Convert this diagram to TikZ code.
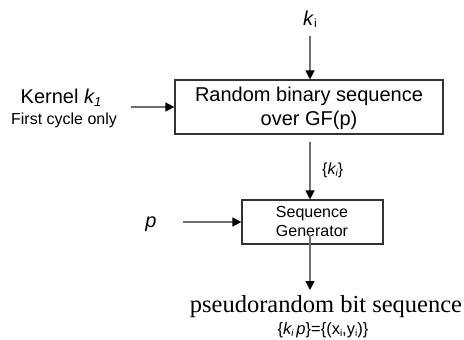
\documentclass[tikz,border=0pt]{standalone}
\usepackage{fontspec}
\setmainfont{Liberation Sans}
\newfontfamily\serifrm{Liberation Serif}
\usetikzlibrary{arrows.meta}
\definecolor{linegray}{HTML}{6E6E6E}
\definecolor{boxgray}{HTML}{333333}
\tikzset{
  blockbox/.style={draw=boxgray, line width=1.2pt, inner sep=0pt, align=center},
  conn/.style={draw=linegray, line width=1.4pt, -{Triangle[length=9pt,width=9pt,color=black]}},
  lbl/.style={inner sep=0pt, anchor=base, align=center},
}
\begin{document}
\begin{tikzpicture}[x=1pt,y=-1pt]
\useasboundingbox (0,0) rectangle (464,340);
% boxes
\node[blockbox, minimum width=268pt, minimum height=54pt] (rbs) at (309,107) {};
\node[lbl, font=\fontsize{20}{24}\selectfont] (rbs1) at (309,101) {Random binary sequence};
\node[lbl, font=\fontsize{20}{24}\selectfont] (rbs2) at (309,125) {over GF(p)};
\node[blockbox, minimum width=141pt, minimum height=44pt] (sg) at (312.5,222) {};
\node[lbl, font=\fontsize{16}{19}\selectfont] (sg1) at (312,217) {Sequence};
\node[lbl, font=\fontsize{16}{19}\selectfont] (sg2) at (312,236) {Generator};
% labels
\node[lbl, font=\fontsize{20}{24}\selectfont] (ki) at (310,25) {\textit{k}\raisebox{-0.2ex}{\fontsize{12}{14}\selectfont i}};
\coordinate (kitop) at (310,36);
\node[lbl, font=\fontsize{20}{24}\selectfont] (kern) at (61,103) {Kernel \textit{k\raisebox{-0.3ex}{\fontsize{13}{14}\selectfont 1}}};
\node[lbl, font=\fontsize{16}{19}\selectfont] (fco) at (64,124) {First cycle only};
\coordinate (kernend) at (131,107);
\node[lbl, font=\fontsize{20}{24}\selectfont] (p) at (151,227) {\textit{p}};
\coordinate (pend) at (183,222);
\coordinate (rbsout) at (310,142);
\node[lbl, font=\fontsize{16}{19}\selectfont, anchor=base west] (kset) at (322,174) {\{\textit{k\raisebox{-0.3ex}{\fontsize{10}{12}\selectfont i}}\}};
\coordinate (sgout) at (310,235);
\coordinate (outend) at (310,290);
\node[lbl, font=\serifrm\fontsize{24.5}{28}\selectfont] (prbs) at (326,312) {pseudorandom bit sequence};
\node[lbl, font=\fontsize{16.5}{19}\selectfont] (form) at (323,334) {\{\textit{k\raisebox{-0.3ex}{\fontsize{10}{12}\selectfont i}\,p}\}=\{(x\raisebox{-0.3ex}{\fontsize{10}{12}\selectfont i},y\raisebox{-0.3ex}{\fontsize{10}{12}\selectfont i})\}};
% connectors
\draw[conn] (kitop) -- (310,79.4);
\draw[conn] (kernend) -- (rbs.west);
\draw[conn] (rbsout) -- (310,199.4);
\draw[conn] (pend) -- (sg.west);
\draw[conn] (sgout) -- (outend);
\end{tikzpicture}
\end{document}
